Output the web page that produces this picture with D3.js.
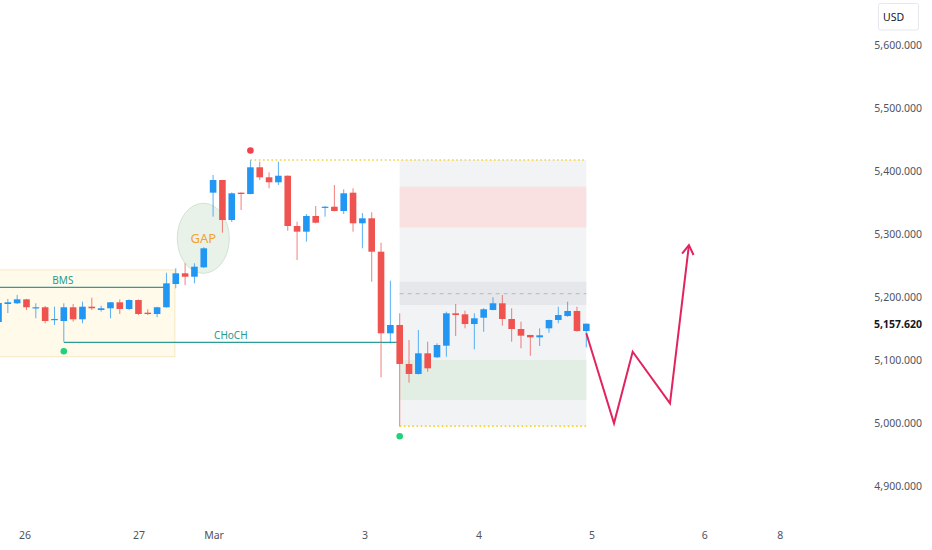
<!DOCTYPE html>
<html><head><meta charset="utf-8">
<script src="https://cdn.jsdelivr.net/npm/d3@7"></script>
<style>
body{margin:0;background:#fff;}
svg{display:block;font-family:"Noto Sans","DejaVu Sans",sans-serif;}
</style>
</head><body>
<svg id="chart" width="932" height="550"></svg>
<script>
// ---- data ----
const opens  = [5160.3,5188.9,5190.0,5196.3,5182.1,5183.7,5163.5,5161.9,5183.7,5164.6,5184.6,5179.4,5182.1,5191.6,5181.0,5195.2,5175.1,5173.0,5183.7,5220.6,5237.6,5232.2,5247.1,5365.6,5385.7,5322.2,5365.6,5363.5,5405.9,5390.0,5382.1,5392.5,5312.7,5303.7,5328.6,5341.7,5343.3,5336.5,5365.6,5317.0,5324.9,5271.9,5142.4,5155.6,5093.7,5077.8,5110.6,5104.3,5122.7,5174.1,5172.5,5157.1,5167.1,5179.4,5190.0,5165.1,5149.2,5139.7,5136.0,5150.3,5163.5,5169.8,5177.8,5146.0];
const highs  = [5195.2,5196.8,5203.2,5197.0,5190.0,5185.7,5184.6,5190.0,5188.9,5192.5,5198.9,5186.2,5192.0,5196.3,5196.3,5196.0,5180.5,5184.5,5238.6,5245.6,5253.5,5253.5,5279.0,5393.7,5386.0,5366.0,5366.0,5417.5,5414.8,5397.9,5414.8,5393.0,5319.5,5331.7,5344.4,5344.4,5377.8,5370.9,5372.5,5333.3,5334.4,5286.2,5225.9,5174.1,5131.7,5147.6,5129.0,5126.5,5176.7,5188.9,5178.3,5174.1,5182.1,5199.5,5203.2,5182.1,5160.8,5140.0,5150.3,5164.0,5184.6,5192.5,5184.6,5158.0];
const lows   = [5155.6,5174.6,5189.0,5179.4,5166.2,5158.3,5155.6,5129.0,5160.8,5158.3,5179.4,5176.7,5166.2,5173.0,5179.4,5171.4,5171.4,5167.8,5183.0,5213.8,5219.0,5221.7,5246.0,5327.5,5302.1,5319.0,5338.1,5363.0,5385.7,5372.5,5377.8,5305.2,5258.7,5287.8,5317.0,5327.5,5336.0,5331.7,5303.7,5277.3,5224.3,5072.5,5126.5,4994.1,5064.0,5077.0,5081.4,5103.0,5105.2,5138.1,5150.3,5117.0,5144.9,5179.0,5154.4,5129.0,5118.6,5106.8,5122.2,5143.3,5158.3,5168.7,5145.0,5120.2];
const closes = [5190.5,5191.6,5196.3,5183.7,5183.7,5161.9,5165.1,5183.7,5164.6,5184.6,5182.1,5182.1,5191.6,5181.0,5195.2,5173.0,5173.0,5183.7,5221.7,5237.6,5232.2,5248.1,5277.3,5385.7,5322.2,5364.6,5363.5,5405.9,5390.0,5382.1,5392.5,5312.7,5303.7,5328.6,5317.9,5343.3,5336.5,5364.6,5317.0,5324.9,5271.9,5142.4,5155.6,5093.7,5077.8,5110.6,5086.8,5123.8,5174.1,5171.4,5157.1,5166.2,5180.5,5190.0,5165.1,5149.2,5138.6,5136.0,5139.2,5163.5,5171.4,5177.8,5146.0,5157.6];

const priceTicks = [4900,5000,5100,5200,5300,5400,5500,5600];
const lastPrice = 5157.62;
const dateLabels = ["26","27","Mar","3","4","5","6","8"];
const datePositions = [2.84,15.06,23.1,39.28,51.5,63.6,75.7,83.8];

// annotation anchors (bar index / price)
const bmsLevel = 5215.4;          // BMS line
const bmsBoxBars = [-1, 18.9];
const bmsBoxPrices = [5243, 5105.2];
const chochLevel = 5128.1;        // CHoCH line
const chochBars = [7, 42.7];
const swingHighBar = 27, swingLowBar = 43, chochBar = 7;
const rangeBars = [43, 63];
const rangeTop = 5417.5, rangeBottom = 4995.0;
const redZone = [5375.1, 5310.6];
const midZone = [5224.3, 5187.3];
const midLine = 5205.2;
const greenZone = [5100.0, 5036.5];
const gapCenter = [21.95, 5293.2], gapRadius = [2.79, 55.6];
const zigBars   = [63, 65.97, 67.97, 71.97, 74.0];
const zigPrices = [5142.4, 4999.5, 5113.2, 5031.3, 5282.5];

// ---- scales ----
const x = d3.scaleLinear().domain([0, 63]).range([-1.5, 586.3]);
const y = d3.scaleLinear().domain([5000, 5600]).range([423, 45]);
const svg = d3.select("#chart");
const bw = 6.6;

const candles = opens.map((o,i)=>({i, o, h:highs[i], l:lows[i], c:closes[i]}));
const UP = "#2196f3", DN = "#ef5350";

// position tool box
const g0 = svg.append("g");
g0.append("rect").attr("x", x(rangeBars[0])).attr("width", x(rangeBars[1])-x(rangeBars[0]))
  .attr("y", y(rangeTop)).attr("height", y(rangeBottom)-y(rangeTop)).attr("fill", "#f2f3f5");
[[redZone,"#f9e0e1"],[midZone,"#e6e7ea"],[greenZone,"#e2ede3"]].forEach(([z,col])=>{
  g0.append("rect").attr("x", x(rangeBars[0])).attr("width", x(rangeBars[1])-x(rangeBars[0]))
    .attr("y", y(z[0])).attr("height", y(z[1])-y(z[0])).attr("fill", col);
});
g0.append("line").attr("x1", x(rangeBars[0])).attr("x2", x(rangeBars[1]))
  .attr("y1", y(midLine)).attr("y2", y(midLine)).attr("stroke","#b5b8bd").attr("stroke-dasharray","4,4");

// BMS box
g0.append("rect").attr("x", x(bmsBoxBars[0])).attr("width", x(bmsBoxBars[1])-x(bmsBoxBars[0]))
  .attr("y", y(bmsBoxPrices[0])).attr("height", y(bmsBoxPrices[1])-y(bmsBoxPrices[0]))
  .attr("fill","#fffaea").attr("stroke","#f8e8c2").attr("stroke-width",1);

// GAP ellipse
g0.append("ellipse").attr("cx", x(gapCenter[0])).attr("cy", y(gapCenter[1]))
  .attr("rx", x(gapCenter[0]+gapRadius[0])-x(gapCenter[0]))
  .attr("ry", y(gapCenter[1]-gapRadius[1])-y(gapCenter[1]))
  .attr("fill","#e9f2e8").attr("stroke","#d3e2d2").attr("stroke-width",1);
g0.append("text").attr("x", x(gapCenter[0])).attr("y", y(gapCenter[1])+5)
  .attr("text-anchor","middle").attr("font-size",13).attr("fill","#f2a32e").text("GAP");

// lines
g0.append("line").attr("x1", x(bmsBoxBars[0])).attr("x2", x(17.8))
  .attr("y1", y(bmsLevel)).attr("y2", y(bmsLevel)).attr("stroke","#2a9d94").attr("stroke-width",1.2);
g0.append("text").attr("x", x(6.9)).attr("y", y(bmsLevel)-3.5).attr("text-anchor","middle")
  .attr("font-size",10).attr("fill","#1f9a8e").text("BMS");
g0.append("line").attr("x1", x(chochBars[0])).attr("x2", x(chochBars[1]))
  .attr("y1", y(chochLevel)).attr("y2", y(chochLevel)).attr("stroke","#2a9d94").attr("stroke-width",1.2);
g0.append("text").attr("x", x(24.9)).attr("y", y(chochLevel)-3).attr("text-anchor","middle")
  .attr("font-size",10).attr("fill","#1f9a8e").text("CHoCH");

// candles
const gc = svg.append("g");
gc.selectAll("line.w").data(candles).enter().append("line")
  .attr("x1", d=>x(d.i)).attr("x2", d=>x(d.i))
  .attr("y1", d=>y(d.h)).attr("y2", d=>y(d.l))
  .attr("stroke", d=>d.c>=d.o?UP:DN).attr("stroke-opacity",0.75).attr("stroke-width",1);
gc.selectAll("rect.b").data(candles).enter().append("rect")
  .attr("x", d=>x(d.i)-bw/2).attr("width", bw)
  .attr("y", d=>y(Math.max(d.o,d.c)))
  .attr("height", d=>Math.max(1.2, Math.abs(y(d.o)-y(d.c))))
  .attr("fill", d=>d.c>=d.o?UP:DN);

// dotted range lines
svg.append("line").attr("x1", x(swingHighBar)).attr("x2", x(rangeBars[1]))
  .attr("y1", y(rangeTop)).attr("y2", y(rangeTop)).attr("stroke","#f3d23a")
  .attr("stroke-width",1.6).attr("stroke-dasharray","1.6,2.6");
svg.append("line").attr("x1", x(swingLowBar)).attr("x2", x(rangeBars[1]))
  .attr("y1", y(rangeBottom)).attr("y2", y(rangeBottom)).attr("stroke","#f3d23a")
  .attr("stroke-width",1.6).attr("stroke-dasharray","1.6,2.6");

// swing dots
svg.append("circle").attr("cx", x(swingHighBar)).attr("cy", y(highs[swingHighBar])-9.5).attr("r",3.3).attr("fill","#f2404f");
svg.append("circle").attr("cx", x(chochBar)).attr("cy", y(lows[chochBar])+9.5).attr("r",3.3).attr("fill","#22d17a");
svg.append("circle").attr("cx", x(swingLowBar)).attr("cy", y(lows[swingLowBar])+9.5).attr("r",3.3).attr("fill","#22d17a");

// zigzag projection
const zig = zigBars.map((b,k)=>[x(b), y(zigPrices[k])]);
svg.append("path").attr("d", d3.line()(zig)).attr("fill","none")
  .attr("stroke","#e2245e").attr("stroke-width",2).attr("stroke-linejoin","miter");
const [tx,ty] = zig[zig.length-1], [px,py] = zig[zig.length-2];
const ang = Math.atan2(ty-py, tx-px), L = 11, sp = 0.55;
svg.append("path").attr("d", d3.line()([
  [tx - L*Math.cos(ang-sp), ty - L*Math.sin(ang-sp)], [tx,ty],
  [tx - L*Math.cos(ang+sp), ty - L*Math.sin(ang+sp)]]))
  .attr("fill","none").attr("stroke","#e2245e").attr("stroke-width",2);

// price axis
const ga = svg.append("g");
ga.selectAll("text.p").data(priceTicks).enter().append("text")
  .attr("x", 922).attr("y", d=>y(d)+4).attr("text-anchor","end")
  .attr("font-size",10.5).attr("fill","#50535e").text(d=>d3.format(",.3f")(d));
ga.append("text").attr("x",922).attr("y", y(lastPrice)+4).attr("text-anchor","end")
  .attr("font-size",10.5).attr("font-weight","bold").attr("fill","#131722").text(d3.format(",.3f")(lastPrice));
ga.append("rect").attr("x",878.5).attr("y",3.5).attr("width",40).attr("height",26.5).attr("rx",2)
  .attr("fill","#fff").attr("stroke","#e6e8ee");
ga.append("text").attr("x",883).attr("y",21).attr("font-size",10.5).attr("fill","#131722").text("USD");

// time axis
ga.selectAll("text.t").data(dateLabels).enter().append("text")
  .attr("x", (d,k)=>x(datePositions[k])).attr("y", 539).attr("text-anchor","middle")
  .attr("font-size",10.5).attr("fill","#50535e").text(d=>d);
</script>
</body></html>
